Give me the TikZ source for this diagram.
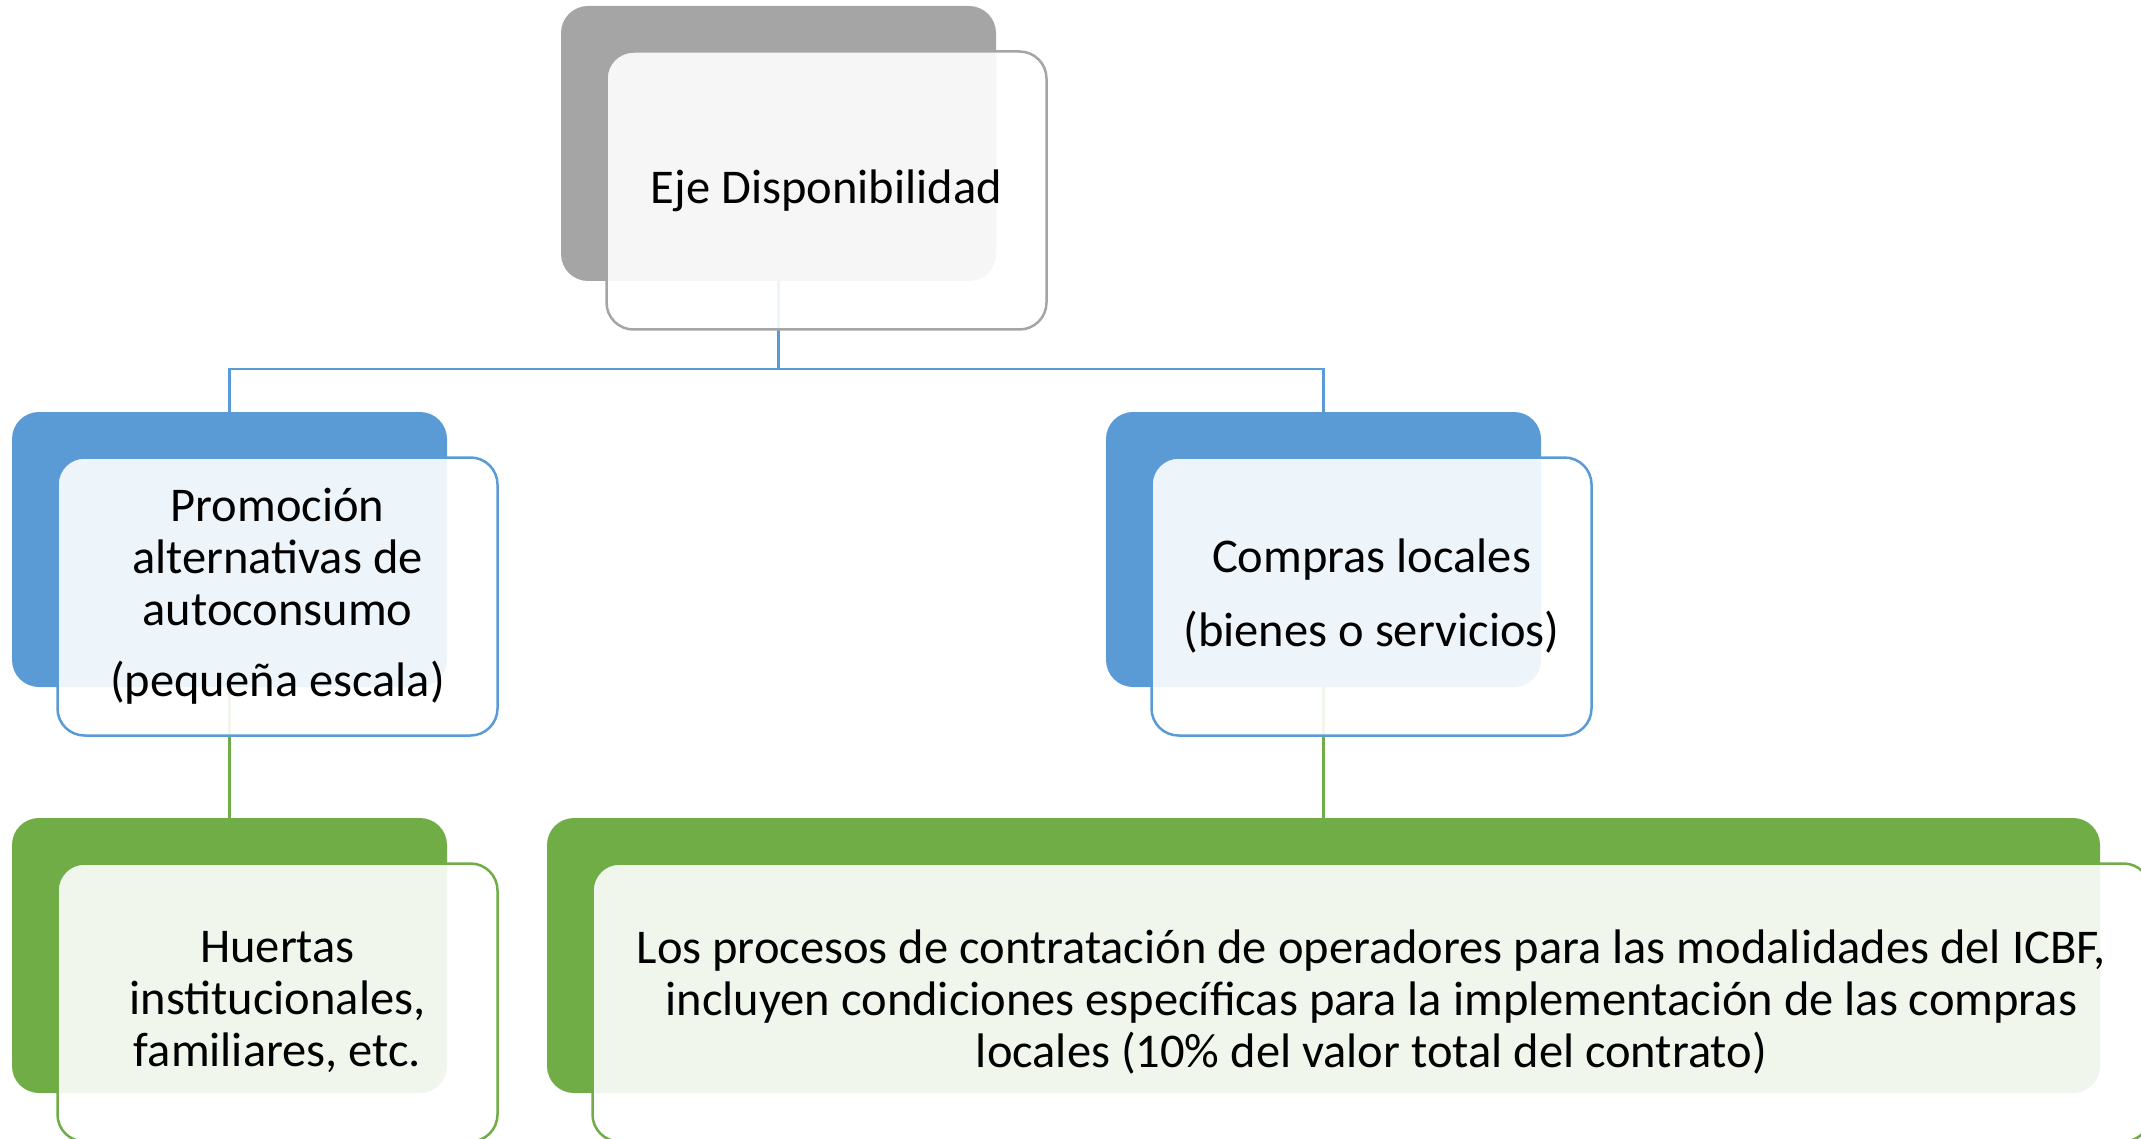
\documentclass[tikz,border=0pt]{standalone}
\usepackage{fontspec}
\setmainfont{Carlito}

\definecolor{ejegray}{HTML}{A5A5A5}
\definecolor{ejeblue}{HTML}{5B9BD5}
\definecolor{ejegreen}{HTML}{70AD47}

\begin{document}
\begin{tikzpicture}[
      x=1pt, y=-1pt,
      back/.style={
          rectangle,
          rounded corners=27pt,
          fill=#1,
          minimum width=435pt,
          minimum height=275pt,
          inner sep=0pt
        },
      front/.style={
          rectangle,
          rounded corners=27pt,
          draw=#1,
          line width=2.5pt,
          fill=white,
          fill opacity=0.9,
          text opacity=1,
          minimum width=440pt,
          minimum height=278pt,
          align=center,
          inner sep=0pt,
          font=\fontsize{48.5}{52}\selectfont
        },
      link/.style={
          draw=#1,
          line width=2.5pt
        }
    ]
    \useasboundingbox (0,0) rectangle (2141,1139);
    \clip (0,0) rectangle (2141,1139);
    % back boxes
    \node[back=ejegray] (eje) at (778.5,143.5) {};
    \node[back=ejeblue] (promo) at (229.5,549.5) {};
    \node[back=ejeblue] (compras) at (1323.5,549.5) {};
    \node[back=ejegreen] (huertas) at (229.5,955.5) {};
    \node[back=ejegreen, minimum width=1553pt] (procesos) at (1323.5,955.5) {};
    % connectors
    \coordinate (bus) at (778.5,369);
    \draw[link=ejeblue] (eje.south) -- (bus);
    \draw[link=ejeblue] (bus) -| (promo.north);
    \draw[link=ejeblue] (bus) -| (compras.north);
    \draw[link=ejegreen] (promo.south) -- (huertas.north);
    \draw[link=ejegreen] (compras.south) -- (procesos.north);
    % front boxes with the texts
    \node[front=ejegray] (ejetxt) at ([shift={(48,47)}]eje.center) {Eje Disponibilidad};
    \node[front=ejeblue] (promotxt) at ([shift={(48,47)}]promo.center)
    {Promoción\\alternativas de\\autoconsumo\\[19pt](pequeña escala)};
    \node[front=ejeblue] (comprastxt) at ([shift={(48,47)}]compras.center)
    {Compras locales\\[22pt](bienes o servicios)};
    \node[front=ejegreen] (huertastxt) at ([shift={(48,47)}]huertas.center)
    {Huertas\\institucionales,\\familiares, etc.};
    \node[front=ejegreen, minimum width=1558pt] (procesostxt) at ([shift={(48,47)}]procesos.center)
    {Los procesos de contratación de operadores para las modalidades del ICBF,\\
      incluyen condiciones específicas para la implementación de las compras\\
      locales (10\% del valor total del contrato)};
  \end{tikzpicture}
\end{document}
